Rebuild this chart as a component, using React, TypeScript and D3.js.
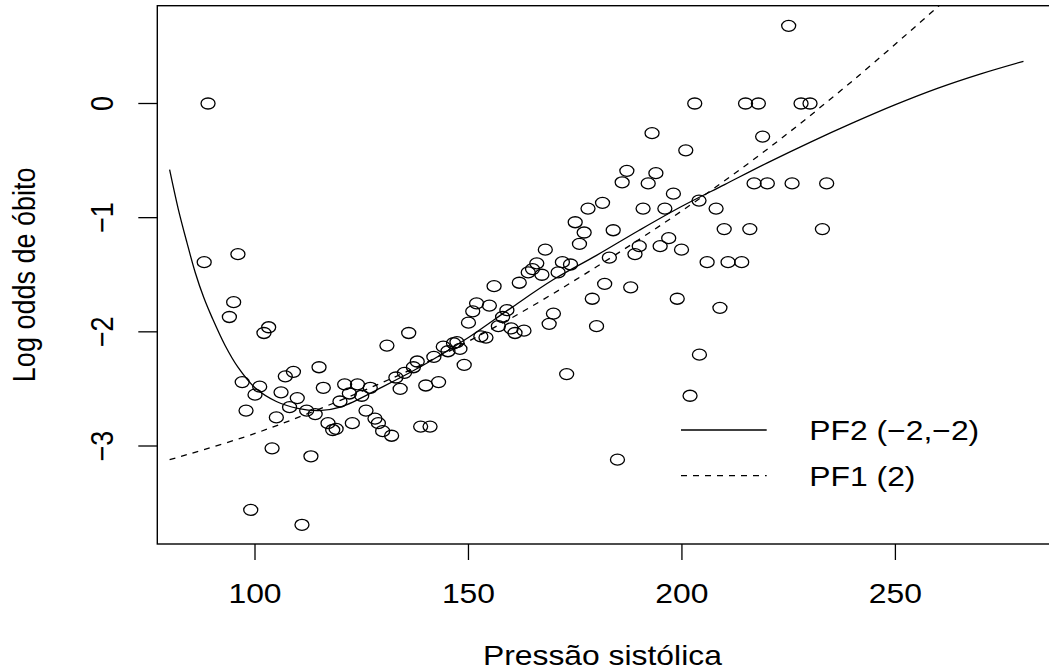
import React from "react";
import * as d3 from "d3";

// Observed data: systolic pressure vs log odds of death
const pressure = [
  88.1, 89.0, 94.0, 95.0, 96.0, 97.0, 97.9, 99.0, 100.0, 101.1, 102.1, 103.2, 104.0, 105.0, 106.1, 107.1,
  108.1, 109.0, 109.9, 111.0, 112.1, 113.1, 114.1, 115.0, 116.0, 117.1, 118.2, 119.0, 119.9, 121.0, 122.1,
  122.8, 124.0, 125.0, 126.0, 127.0, 128.1, 128.9, 129.9, 130.9, 132.0, 133.0, 134.0, 135.0, 136.0, 137.1,
  138.0, 138.8, 140.0, 141.0, 141.9, 143.0, 144.1, 145.2, 146.5, 147.3, 148.0, 149.0, 150.0, 151.0, 151.9,
  152.9, 154.1, 154.9, 156.0, 157.0, 158.0, 159.0, 160.0, 160.9, 161.9, 163.0, 164.0, 165.0, 166.0, 167.2,
  168.0, 168.9, 169.9, 171.0, 172.0, 173.0, 173.9, 175.0, 176.0, 177.1, 178.0, 179.0, 180.0, 181.4, 181.9,
  183.0, 183.9, 184.9, 186.0, 187.1, 188.0, 189.0, 190.0, 190.9, 192.1, 193.0, 193.9, 194.9, 196.0, 196.9,
  198.0, 198.9, 199.9, 200.9, 201.9, 203.0, 204.0, 204.1, 205.9, 208.0, 208.9, 209.9, 210.8, 214.0, 214.9,
  215.9, 216.9, 217.9, 218.9, 220.0, 225.0, 225.8, 227.9, 230.0, 232.9, 233.9,
];
const logOdds = [
  -1.39, 0.0, -1.87, -1.74, -1.32, -2.44, -2.69, -3.56, -2.55, -2.48, -2.01, -1.96, -3.02, -2.75, -2.53, -2.39,
  -2.66, -2.35, -2.58, -3.69, -2.69, -3.09, -2.72, -2.31, -2.49, -2.8, -2.86, -2.85, -2.61, -2.46, -2.54,
  -2.8, -2.46, -2.56, -2.69, -2.49, -2.76, -2.8, -2.87, -2.12, -2.91, -2.4, -2.5, -2.36, -2.01, -2.31,
  -2.26, -2.83, -2.47, -2.83, -2.22, -2.44, -2.13, -2.17, -2.1, -2.09, -2.15, -2.29, -1.92, -1.82, -1.75,
  -2.04, -2.05, -1.77, -1.6, -1.95, -1.87, -1.81, -1.97, -2.01, -1.57, -1.99, -1.48, -1.45, -1.4, -1.5,
  -1.28, -1.93, -1.84, -1.48, -1.39, -2.37, -1.41, -1.04, -1.23, -1.13, -0.92, -1.71, -1.95, -0.87, -1.58,
  -1.35, -1.11, -3.12, -0.69, -0.59, -1.61, -1.32, -1.25, -0.92, -0.7, -0.26, -0.61, -1.25, -0.92, -1.18,
  -0.79, -1.71, -1.28, -0.41, -2.56, 0.0, -0.85, -2.2, -1.39, -0.92, -1.79, -1.1, -1.39, -1.39, 0.0,
  -1.1, -0.7, 0.0, -0.29, -0.7, 0.68, -0.7, 0.0, 0.0, -1.1, -0.7,
];

// Fitted curve PF2 (-2,-2)
const pf2X = [80, 82, 84, 86, 88, 90, 93, 96, 100, 105, 110, 115, 120, 130, 140, 150, 160, 170, 180, 190, 200, 210, 220, 230, 240, 250, 260, 270, 280];
const pf2Y = [-0.58, -0.92, -1.21, -1.48, -1.7, -1.88, -2.12, -2.31, -2.49, -2.61, -2.67, -2.69, -2.66, -2.48, -2.28, -2.05, -1.79, -1.54, -1.33, -1.11, -0.9, -0.71, -0.52, -0.34, -0.17, -0.01, 0.135, 0.26, 0.37];

// Fitted curve PF1 (2)
const pf1X = [80, 100, 120, 140, 160, 180, 200, 220, 240, 260, 265];
const pf1Y = [-3.12, -2.89, -2.6, -2.27, -1.88, -1.43, -0.94, -0.4, 0.2, 0.85, 1.02];

const xTicks = [100, 150, 200, 250];
const yTicks = [0, -1, -2, -3];
const legendLabels = ["PF2 (\u22122,\u22122)", "PF1 (2)"];

const W = 1049;
const H = 672;
const PLOT = { left: 157.3, top: 5.7, bottom: 544, right: 1047.5 };
const SX = 1.18; // horizontal stretch of glyphs
const FONT = "'Liberation Sans', Arial, Helvetica, sans-serif";
const FS = 27;

export default function App() {
  const x = d3.scaleLinear().domain([100, 250]).range([255, 895.4]);
  const y = d3.scaleLinear().domain([0, -3]).range([103.5, 446]);

  const line = d3
    .line<[number, number]>()
    .x((d) => x(d[0]))
    .y((d) => y(d[1]))
    .curve(d3.curveCatmullRom.alpha(0.5));

  const pf2 = pf2X.map((v, i) => [v, pf2Y[i]] as [number, number]);
  const pf1 = pf1X.map((v, i) => [v, pf1Y[i]] as [number, number]);

  const stroke = "#000";
  const cx = (PLOT.left + PLOT.right) / 2;
  const cy = (PLOT.top + PLOT.bottom) / 2;

  return (
    <svg
      width={W}
      height={H}
      viewBox={`0 0 ${W} ${H}`}
      style={{ position: "absolute", left: 0, top: 0, display: "block", background: "#fff" }}
      fontFamily={FONT}
    >
      <defs>
        <clipPath id="plotclip">
          <rect x={PLOT.left} y={PLOT.top} width={W + 10 - PLOT.left} height={PLOT.bottom - PLOT.top} />
        </clipPath>
      </defs>
      <rect x={0} y={0} width={W} height={H} fill="#fff" />

      {/* curves */}
      <g clipPath="url(#plotclip)" fill="none" stroke={stroke} strokeWidth={1.3}>
        <path d={line(pf2) || ""} />
        <path d={line(pf1) || ""} strokeDasharray="6,6" />
      </g>

      {/* points */}
      <g fill="none" stroke={stroke} strokeWidth={1.3}>
        {pressure.map((p, i) => (
          <ellipse key={i} cx={x(p)} cy={y(logOdds[i])} rx={7.0} ry={5.5} />
        ))}
      </g>

      {/* box */}
      <rect
        x={PLOT.left}
        y={PLOT.top}
        width={W + 20 - PLOT.left}
        height={PLOT.bottom - PLOT.top}
        fill="none"
        stroke={stroke}
        strokeWidth={1.4}
      />

      {/* x axis */}
      <g stroke={stroke} strokeWidth={1.3}>
        {xTicks.map((t) => (
          <line key={t} x1={x(t)} x2={x(t)} y1={PLOT.bottom} y2={PLOT.bottom + 16} />
        ))}
      </g>
      {xTicks.map((t) => (
        <text
          key={t}
          transform={`translate(${x(t)},602.5) scale(${SX},1)`}
          textAnchor="middle"
          fontSize={FS}
          fill="#000"
        >
          {String(t)}
        </text>
      ))}

      {/* y axis */}
      <g stroke={stroke} strokeWidth={1.3}>
        {yTicks.map((t) => (
          <line key={t} x1={PLOT.left - 19} x2={PLOT.left} y1={y(t)} y2={y(t)} />
        ))}
      </g>
      {yTicks.map((t) => (
        <text
          key={t}
          transform={`translate(113,${y(t)}) scale(${SX},1) rotate(-90)`}
          textAnchor="middle"
          fontSize={FS}
          fill="#000"
        >
          {t < 0 ? "\u2212" + String(-t) : String(t)}
        </text>
      ))}

      {/* axis titles */}
      <text
        transform={`translate(${cx},665) scale(${SX},1)`}
        textAnchor="middle"
        fontSize={FS}
        fill="#000"
      >
        Pressão sistólica
      </text>
      <text
        transform={`translate(35,${cy}) scale(${SX},1) rotate(-90)`}
        textAnchor="middle"
        fontSize={FS}
        fill="#000"
      >
        Log odds de óbito
      </text>

      {/* legend */}
      <g stroke={stroke} strokeWidth={1.3}>
        <line x1={681} x2={766.7} y1={430} y2={430} />
        <line x1={681} x2={766.7} y1={475.7} y2={475.7} strokeDasharray="6,6" />
      </g>
      <text transform={`translate(809.3,440) scale(${SX},1)`} fontSize={FS} fill="#000">
        {legendLabels[0]}
      </text>
      <text transform={`translate(809.3,486) scale(${SX},1)`} fontSize={FS} fill="#000">
        {legendLabels[1]}
      </text>
    </svg>
  );
}
